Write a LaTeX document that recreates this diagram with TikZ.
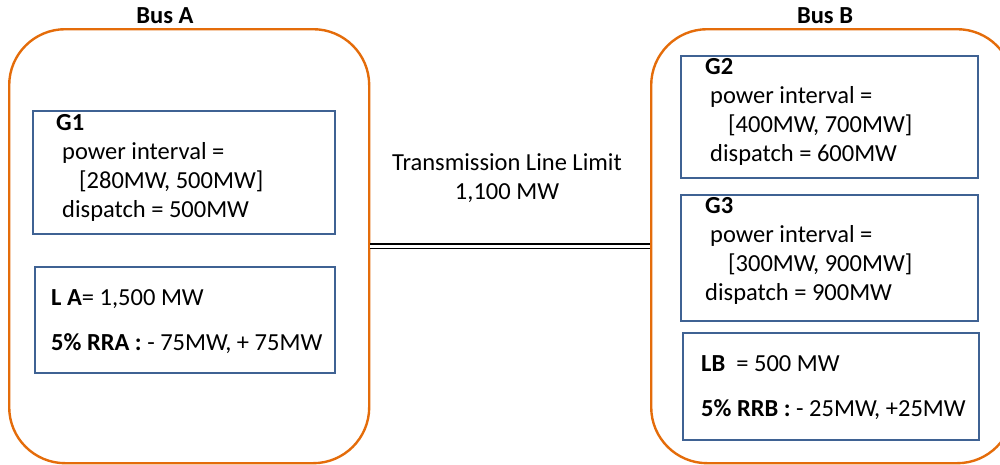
\documentclass[tikz,border=0pt]{standalone}
\usepackage{fontspec}
\setmainfont{Carlito}
\usepackage{tikz}
\usetikzlibrary{positioning}

\definecolor{busorange}{RGB}{228,108,10}
\definecolor{boxblue}{RGB}{63,98,147}

\tikzset{
  bus/.style={draw=busorange, line width=2.4pt, rounded corners=56pt,
    anchor=north west, inner sep=0pt},
  unitbox/.style={draw=boxblue, line width=2pt, anchor=north west, inner sep=0pt},
  info/.style={anchor=north west, inner sep=0pt, align=left,
    font=\fontsize{24.5}{29}\selectfont},
  title/.style={inner sep=0pt, font=\fontsize{24.5}{28}\selectfont\bfseries}
}

\begin{document}
\begin{tikzpicture}[x=1pt, y=-1pt]
  \useasboundingbox (0,0) rectangle (1000,464);
  % the two buses
  \node[bus, minimum width=360pt, minimum height=434pt] (busA) at (8,28) {};
  \node[bus, minimum width=362pt, minimum height=434pt] (busB) at (650,28) {};
  \node[title, anchor=north] (labA) at (165,7) {Bus A};
  \node[title, anchor=north] (labB) at (825,7) {Bus B};

  % bus A
  \node[unitbox, minimum width=302pt, minimum height=123pt] (g1) at (32,110) {};
  \node[info] (g1txt) at (56,114) {\textbf{G1}\\
    \hspace*{6pt}power interval =\\
    \hspace*{23pt}[280MW, 500MW]\\
    \hspace*{6pt}dispatch = 500MW};
  \node[unitbox, minimum width=300pt, minimum height=106pt] (la) at (34,266) {};
  \node[info, font=\fontsize{24.5}{45}\selectfont] (latxt) at (51,289)
    {\textbf{L A}= 1,500 MW\\ \textbf{5\% RRA :} - 75MW, + 75MW};

  % bus B
  \node[unitbox, minimum width=297pt, minimum height=122pt] (g2) at (680,55) {};
  \node[info] (g2txt) at (705,58) {\textbf{G2}\\
    \hspace*{5pt}power interval =\\
    \hspace*{23pt}[400MW, 700MW]\\
    \hspace*{5pt}dispatch = 600MW};
  \node[unitbox, minimum width=297pt, minimum height=126pt] (g3) at (680,194) {};
  \node[info] (g3txt) at (705,197) {\textbf{G3}\\
    \hspace*{5pt}power interval =\\
    \hspace*{23pt}[300MW, 900MW]\\
    dispatch = 900MW};
  \node[unitbox, minimum width=296pt, minimum height=107pt] (lb) at (682,332) {};
  \node[info, font=\fontsize{24.5}{45}\selectfont] (lbtxt) at (701,355)
    {\textbf{LB}\ \ = 500 MW\\ \textbf{5\% RRB :} - 25MW, +25MW};

  % the line between them
  \draw[double, double distance=3pt, line width=1.5pt] (busA.east) -- (busB.west);
  \node[info, anchor=north, align=center] (limit) at (507,153)
    {Transmission Line Limit\\ 1,100 MW};
\end{tikzpicture}
\end{document}
